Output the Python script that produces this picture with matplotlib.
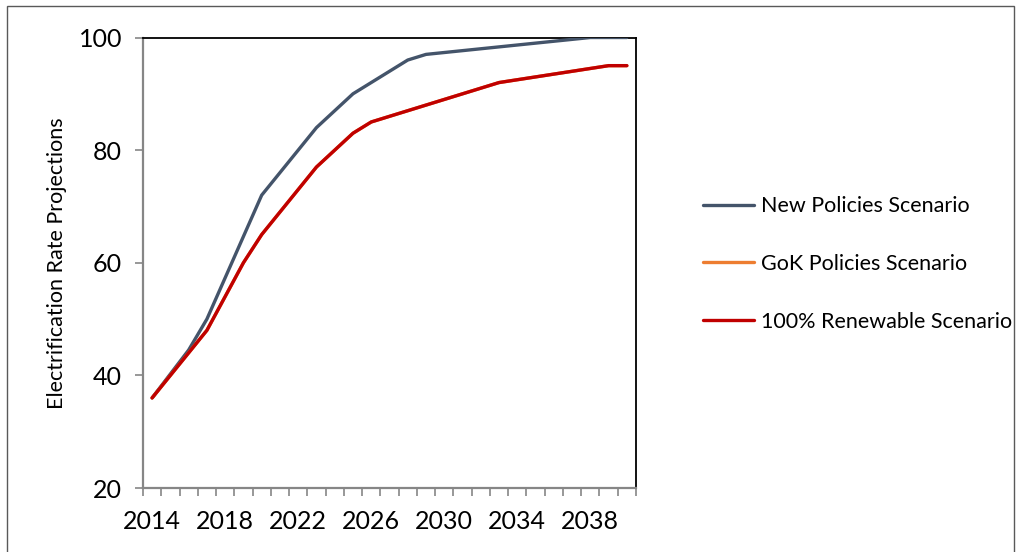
import matplotlib
matplotlib.use("Agg")
import matplotlib.pyplot as plt
from matplotlib.patches import Rectangle

# electrification rate projections (%), vertices of each scenario line
new_years = [2014, 2016, 2017, 2020, 2023, 2025, 2028, 2029, 2038, 2040]
new_rate = [36, 44.5, 50, 72, 84, 90, 96, 97, 100, 100]

gok_years = [2014, 2016, 2017, 2019, 2020, 2023, 2025, 2026, 2033, 2039, 2040]
gok_rate = [36, 44, 48, 60, 65, 77, 83, 85, 92, 95, 95]

ren_years = [2014, 2016, 2017, 2019, 2020, 2023, 2025, 2026, 2033, 2039, 2040]
ren_rate = [36, 44, 48, 60, 65, 77, 83, 85, 92, 95, 95]

label_years = [2014, 2018, 2022, 2026, 2030, 2034, 2038]
y_ticks = [20, 40, 60, 80, 100]

FONT = "Lato"
AXIS_GREY = "#868686"

fig = plt.figure(figsize=(10.2, 5.52), dpi=100)
ax = fig.add_axes([143/1020, 1 - 488/552, 493/1020, 450.5/552])

ax.plot(new_years, new_rate, color="#44546A", lw=2.4, solid_capstyle="round",
        solid_joinstyle="round", label="New Policies Scenario", zorder=3)
ax.plot(gok_years, gok_rate, color="#ED7D31", lw=2.4, solid_capstyle="round",
        solid_joinstyle="round", label="GoK Policies Scenario", zorder=4)
ax.plot(ren_years, ren_rate, color="#C00000", lw=2.4, solid_capstyle="round",
        solid_joinstyle="round", label="100% Renewable Scenario", zorder=5)

ax.set_xlim(2013.5, 2040.5)
ax.set_ylim(20, 100)

# category boundaries carry the tick marks, labels sit on the category centres
bounds = [2013.5 + i for i in range(28)]
ax.set_xticks(bounds)
ax.set_xticklabels([""] * len(bounds))
ax.set_xticks(label_years, minor=True)
ax.set_xticklabels([str(y) for y in label_years], minor=True,
                   fontsize=18, fontfamily=FONT)
ax.tick_params(axis="x", which="major", direction="out", length=6,
               width=1.2, color=AXIS_GREY)
ax.tick_params(axis="x", which="minor", length=0, pad=16)

ax.set_yticks(y_ticks)
ax.set_yticklabels([str(v) for v in y_ticks], fontsize=18, fontfamily=FONT)
ax.tick_params(axis="y", direction="out", length=6, width=1.2,
               color=AXIS_GREY, pad=9)

ax.spines["left"].set_color(AXIS_GREY)
ax.spines["bottom"].set_color(AXIS_GREY)
ax.spines["left"].set_linewidth(1.6)
ax.spines["bottom"].set_linewidth(1.6)
ax.spines["top"].set_color("black")
ax.spines["right"].set_color("black")
ax.spines["top"].set_linewidth(1.3)
ax.spines["right"].set_linewidth(1.3)

ax.set_ylabel("Electrification Rate Projections", fontsize=15.5, fontfamily=FONT)
ax.yaxis.set_label_coords(-0.155, 0.5)

fig.legend(loc="center left", bbox_to_anchor=(684/1020, 1 - 264/552),
           frameon=False, prop={"family": FONT, "size": 15.5},
           handlelength=2.37, handletextpad=0.33, labelspacing=1.76)

# outer frame of the chart area
fig.patches.append(Rectangle((7/1020, -0.05), 1007/1020, 1.05 - 6/552,
                             transform=fig.transFigure, fill=False,
                             edgecolor="#595959", lw=1.0))

fig.savefig("out.png", dpi=100)
